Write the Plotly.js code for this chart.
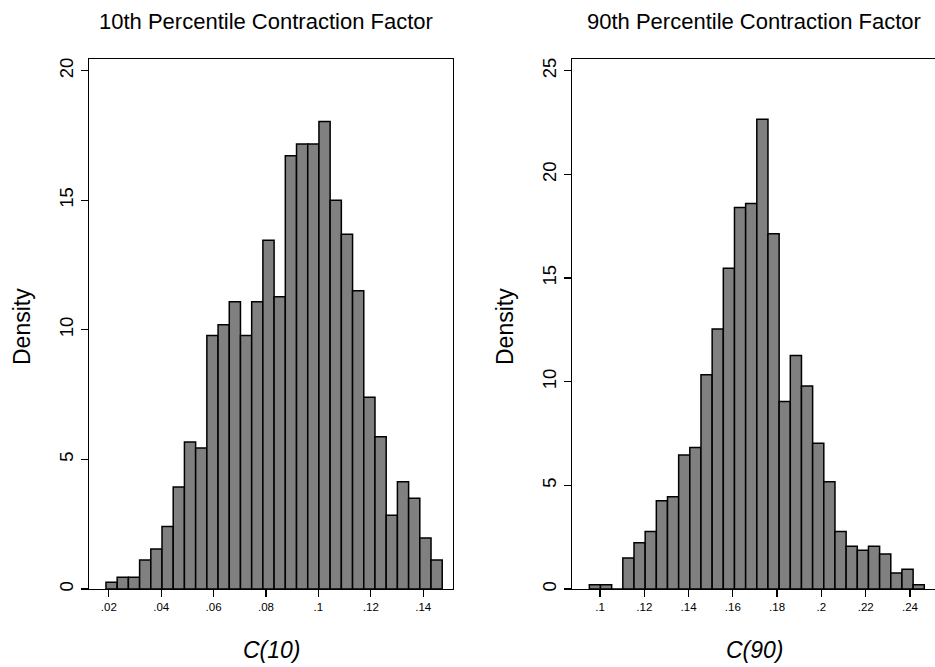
<!DOCTYPE html>
<html>
<head>
<meta charset="utf-8">
<script src="https://cdn.plot.ly/plotly-3.0.1.min.js"></script>
<style>html,body{margin:0;padding:0;background:#fff;}#chart{width:935px;height:667px;}</style>
</head>
<body>
<div id="chart"></div>
<script>
// ---- Data ----
// 10th percentile contraction factor C(10): histogram densities
const c10BinStart = 0.01892;
const c10BinWidth = 0.004278;
const c10Density = [0.26, 0.45, 0.45, 1.12, 1.54, 2.41, 3.94, 5.67, 5.44, 9.78,
                    10.20, 11.08, 9.78, 11.08, 13.46, 11.28, 16.72, 17.17, 17.17, 18.04,
                    15.00, 13.69, 11.51, 7.40, 5.87, 2.85, 4.14, 3.50, 1.97, 1.12];
// 90th percentile contraction factor C(90): histogram densities
const c90BinStart = 0.09518;
const c90BinWidth = 0.005043;
const c90Density = [0.21, 0.21, 0, 1.50, 2.23, 2.78, 4.26, 4.45, 6.46, 6.83,
                    10.34, 12.54, 15.47, 18.41, 18.60, 22.66, 17.14, 9.04, 11.26, 9.79,
                    7.03, 5.18, 2.78, 2.06, 1.87, 2.06, 1.69, 0.77, 0.95, 0.21];

const c10TickVals = [0.02, 0.04, 0.06, 0.08, 0.10, 0.12, 0.14];
const c10TickText = ['.02', '.04', '.06', '.08', '.1', '.12', '.14'];
const c90TickVals = [0.10, 0.12, 0.14, 0.16, 0.18, 0.20, 0.22, 0.24];
const c90TickText = ['.1', '.12', '.14', '.16', '.18', '.2', '.22', '.24'];
const c10YTicks = [0, 5, 10, 15, 20];
const c90YTicks = [0, 5, 10, 15, 20, 25];

const titles = ['10th Percentile Contraction Factor', '90th Percentile Contraction Factor'];
const xTitles = ['C(10)', 'C(90)'];
const yTitle = 'Density';

// ---- Build ----
function centers(start, width, n) {
  const out = [];
  for (let i = 0; i < n; i++) out.push(start + width * (i + 0.5));
  return out;
}
const FONT = '"Liberation Sans", Arial, Helvetica, sans-serif';
const barStyle = {color: '#808080', line: {color: '#000000', width: 1.5}};

const traces = [
  {type: 'bar', x: centers(c10BinStart, c10BinWidth, c10Density.length), y: c10Density,
   width: c10BinWidth, marker: barStyle, xaxis: 'x', yaxis: 'y', hoverinfo: 'x+y'},
  {type: 'bar', x: centers(c90BinStart, c90BinWidth, c90Density.length), y: c90Density,
   width: c90BinWidth, marker: barStyle, xaxis: 'x2', yaxis: 'y2', hoverinfo: 'x+y'}
];

const L = 89, T = 59, B = 78, W = 935, H = 667;
const pw = W - L, ph = H - T - B;
const px = v => (v - L) / pw;
const py = v => (H - B - v) / ph;

const axisCommon = {
  showline: true, linecolor: '#000', linewidth: 1.3,
  ticks: 'outside', ticklen: 7, tickwidth: 1.3, tickcolor: '#000',
  showgrid: false, zeroline: false, fixedrange: true
};

const layout = {
  width: W, height: H,
  margin: {l: L, r: 0, t: T, b: B, pad: 0},
  paper_bgcolor: '#fff', plot_bgcolor: '#fff',
  showlegend: false, bargap: 0,
  font: {family: FONT, color: '#000'},
  xaxis: Object.assign({}, axisCommon, {
    domain: [0, px(453)], range: [0.012443, 0.15137], mirror: true,
    tickmode: 'array', tickvals: c10TickVals, ticktext: c10TickText,
    tickfont: {size: 11.5, family: FONT, color: '#000'}, anchor: 'y'
  }),
  yaxis: Object.assign({}, axisCommon, {
    domain: [0, 1], range: [0, 20.45], mirror: true,
    tickmode: 'array', tickvals: c10YTicks, tickangle: -90,
    tickfont: {size: 18.5, family: FONT, color: '#000'}, anchor: 'x'
  }),
  xaxis2: Object.assign({}, axisCommon, {
    domain: [px(572), 1], range: [0.08735, 0.25131], mirror: true,
    tickmode: 'array', tickvals: c90TickVals, ticktext: c90TickText,
    tickfont: {size: 11.5, family: FONT, color: '#000'}, anchor: 'y2'
  }),
  yaxis2: Object.assign({}, axisCommon, {
    domain: [0, 1], range: [0, 25.57], mirror: false,
    tickmode: 'array', tickvals: c90YTicks, tickangle: -90,
    tickfont: {size: 18.5, family: FONT, color: '#000'}, anchor: 'x2'
  }),
  annotations: [
    {text: titles[0], x: px(266), y: py(21), xref: 'paper', yref: 'paper',
     xanchor: 'center', yanchor: 'middle', showarrow: false, font: {size: 22, family: FONT, color: '#000'}},
    {text: titles[1], x: px(754), y: py(21), xref: 'paper', yref: 'paper',
     xanchor: 'center', yanchor: 'middle', showarrow: false, font: {size: 22, family: FONT, color: '#000'}},
    {text: yTitle, x: px(22), y: py(327), xref: 'paper', yref: 'paper', textangle: -90,
     xanchor: 'center', yanchor: 'middle', showarrow: false, font: {size: 23, family: FONT, color: '#000'}},
    {text: yTitle, x: px(505), y: py(327), xref: 'paper', yref: 'paper', textangle: -90,
     xanchor: 'center', yanchor: 'middle', showarrow: false, font: {size: 23, family: FONT, color: '#000'}},
    {text: '<i>' + xTitles[0] + '</i>', x: px(272), y: py(650), xref: 'paper', yref: 'paper',
     xanchor: 'center', yanchor: 'middle', showarrow: false, font: {size: 23, family: FONT, color: '#000'}},
    {text: '<i>' + xTitles[1] + '</i>', x: px(755), y: py(650), xref: 'paper', yref: 'paper',
     xanchor: 'center', yanchor: 'middle', showarrow: false, font: {size: 23, family: FONT, color: '#000'}}
  ]
};

Plotly.newPlot('chart', traces, layout, {displayModeBar: false, staticPlot: true});
</script>
</body>
</html>
